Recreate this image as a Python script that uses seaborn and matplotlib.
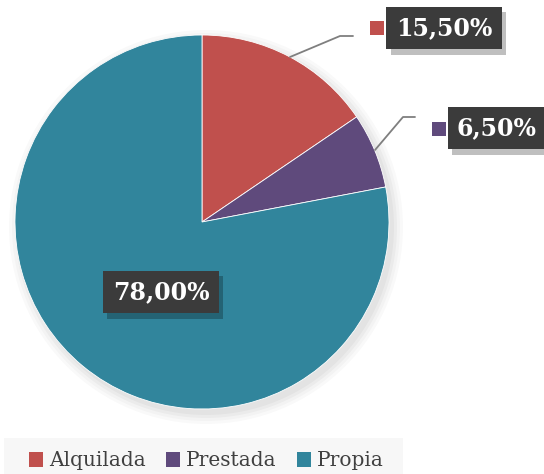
import seaborn as sns
import matplotlib.pyplot as plt
import matplotlib.patheffects as pe
from matplotlib.patches import Rectangle, Circle

# Tenencia de la vivienda
categorias = ["Alquilada", "Prestada", "Propia"]
porcentajes = [15.5, 6.5, 78.0]
etiquetas = ["15,50%", "6,50%", "78,00%"]
colores = ["#C0504D", "#5F4A7C", "#31859C"]

sns.set_theme(style="white")
plt.rcParams["font.family"] = ["DejaVu Serif", "DejaVu Sans"]

W, H = 544, 474
fig = plt.figure(figsize=(W / 100, H / 100), dpi=100)
ax = fig.add_axes([0, 0, 1, 1])

centro = (202, H - 222)
radio = 187

# soft shadow behind the pie
for i, a in enumerate([0.025, 0.025, 0.03, 0.03]):
    ax.add_patch(Circle((centro[0] + 4, centro[1] - 5), radio + 10 - 3 * i,
                        color="black", alpha=a, lw=0, zorder=0))

wedges, _ = ax.pie(porcentajes, colors=colores, startangle=90, counterclock=False,
                   center=centro, radius=radio, frame=True,
                   wedgeprops=dict(linewidth=0.6, edgecolor="white"))
ax.set_xlim(0, W)
ax.set_ylim(0, H)
ax.set_aspect("equal")
ax.axis("off")

# leader lines (pixel coords from top)
lineas = [
    [(290, 57), (340, 36), (353, 36)],
    [(375, 150), (403, 117), (415, 117)],
]
for pts in lineas:
    xs = [p[0] for p in pts]
    ys = [H - p[1] for p in pts]
    ax.plot(xs, ys, color="#7f7f7f", lw=1.3, zorder=3)

# data labels
pos_lbl = [(444, 28), (497, 128), (161, 292)]
pos_key = [(377, 28), (439, 129), None]
caja = dict(boxstyle="square,pad=0.4", facecolor="#3b3b3b", edgecolor="none")
for (x, y), k, txt, c in zip(pos_lbl, pos_key, etiquetas, colores):
    t = ax.text(x, H - y, txt, ha="center", va="center", fontsize=17,
                fontweight="bold", color="white", bbox=caja, zorder=5)
    t.get_bbox_patch().set_path_effects(
        [pe.SimplePatchShadow(offset=(3, -4), shadow_rgbFace="black", alpha=0.25), pe.Normal()])
    if k is not None:
        ax.add_patch(Rectangle((k[0] - 7, H - k[1] - 7), 14, 14, color=c, lw=0, zorder=5))

# legend background
ax.add_patch(Rectangle((4, 0), 399, 36, facecolor="#f7f7f7", edgecolor="none", zorder=1))
leg = ax.legend(wedges, categorias, loc="center left", bbox_to_anchor=(19 / W, 13 / H),
                bbox_transform=fig.transFigure, ncol=3, frameon=False,
                fontsize=14.5, handlelength=0.7, handleheight=0.7, handletextpad=0.3,
                columnspacing=1.0, borderpad=0, labelcolor="#404040")
leg.set_zorder(6)
for h in leg.legend_handles:
    h.set_edgecolor("none")

fig.savefig("out.png", dpi=100)
